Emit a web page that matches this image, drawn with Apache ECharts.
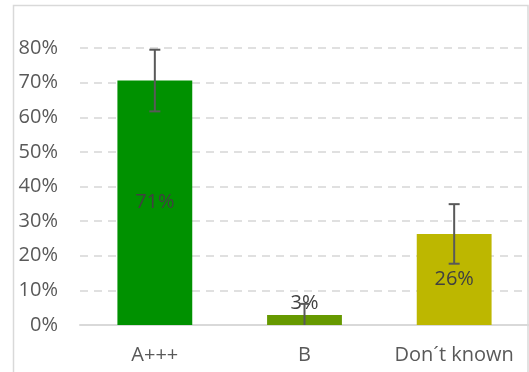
<!DOCTYPE html>
<html>
<head>
<meta charset="utf-8">
<script src="https://cdn.jsdelivr.net/npm/echarts@6/dist/echarts.min.js"></script>
<style>
html,body{margin:0;padding:0;background:#fff;}
#c{width:529px;height:372px;}
</style>
</head>
<body>
<div id="c"></div>
<script>
var categories = ["A+++", "B", "Don\u00b4t known"];
var values = [70.6, 2.9, 26.3];
var errors = [8.9, 3.2, 8.6];
var barColors = ["#009100", "#669900", "#BDB700"];
var yTicks = [0, 10, 20, 30, 40, 50, 60, 70, 80];

var chart = echarts.init(document.getElementById('c'), null, {renderer: 'canvas'});
var FONT = '"Open Sans", sans-serif';

var barData = values.map(function (v, i) {
  var item = {value: v, itemStyle: {color: barColors[i]}};
  if (v < 8) {
    item.label = {position: 'top', distance: 2};
  }
  return item;
});
var errData = values.map(function (v, i) { return [i, v - errors[i], v + errors[i]]; });

chart.setOption({
  animation: false,
  graphic: [{
    type: 'rect',
    shape: {x: 13.5, y: 5.5, width: 514.5, height: 400},
    style: {fill: 'none', stroke: '#d9d9d9', lineWidth: 1.5},
    z: -1
  }],
  grid: {left: 80, right: 0, top: 48, bottom: 47, containLabel: false},
  xAxis: {
    type: 'category',
    data: categories,
    axisTick: {show: false},
    axisLine: {lineStyle: {color: '#d9d9d9', width: 2}},
    axisLabel: {color: '#595959', fontSize: 20, fontFamily: FONT, margin: 20, interval: 0, hideOverlap: false}
  },
  yAxis: {
    type: 'value',
    min: yTicks[0],
    max: yTicks[yTicks.length - 1],
    interval: 10,
    axisLine: {show: false},
    axisTick: {show: false},
    axisLabel: {color: '#595959', fontSize: 20, fontFamily: FONT, margin: 22, formatter: '{value}%'},
    splitLine: {lineStyle: {color: '#e0e0e0', width: 2, type: [8, 6]}}
  },
  series: [{
    type: 'bar',
    data: barData,
    barWidth: '50%',
    label: {
      show: true,
      position: 'inside',
      color: '#404040',
      fontSize: 20,
      fontFamily: FONT,
      formatter: function (p) { return Math.round(p.value) + '%'; }
    }
  }, {
    type: 'custom',
    data: errData,
    clip: true,
    z: 10,
    renderItem: function (params, api) {
      var lo = api.coord([api.value(0), api.value(1)]);
      var hi = api.coord([api.value(0), api.value(2)]);
      var hw = 5.5;
      var st = {stroke: '#595959', lineWidth: 2};
      return {
        type: 'group',
        children: [
          {type: 'line', shape: {x1: hi[0], y1: hi[1], x2: lo[0], y2: lo[1]}, style: st},
          {type: 'line', shape: {x1: hi[0] - hw, y1: hi[1], x2: hi[0] + hw, y2: hi[1]}, style: st},
          {type: 'line', shape: {x1: lo[0] - hw, y1: lo[1], x2: lo[0] + hw, y2: lo[1]}, style: st}
        ]
      };
    }
  }]
});
</script>
</body>
</html>
